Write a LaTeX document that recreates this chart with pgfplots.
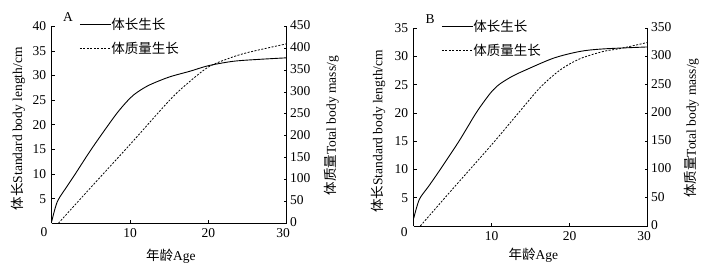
\documentclass[border=0pt]{standalone}
\usepackage{fontspec}
\setmainfont{Liberation Serif}
\newfontfamily\cjk{Noto Sans CJK SC}
\usepackage{pgfplots}
\pgfplotsset{compat=1.18}
\newcommand{\fs}{\fontsize{13.5}{16}\selectfont}

\pgfplotsset{
  twinbase/.style={
    scale only axis,
    xmin=0, xmax=30,
    tick align=inside,
    major tick length=3pt,
    axis line style={line width=0.8pt},
    every tick/.style={line width=0.8pt, black},
    tick label style={font=\fs},
    /pgf/number format/assume math mode=true,
  },
  leftax/.style={twinbase, axis y line*=left, axis x line*=bottom,
    xtick={10,20,30}, xticklabels={10,20,{\hspace{-7pt}30}},
    xticklabel style={yshift=-2pt}, yticklabel style={xshift=-2pt},
    legend style={draw=none, fill=none, at={(rel axis cs:0,1)}, anchor=north west,
      xshift=27.6pt, yshift=8pt, font=\fs\cjk, inner sep=0pt, row sep=10.5pt,
      nodes={inner sep=0pt}, /tikz/every even column/.append style={column sep=7pt}},
    legend cell align=left,
    legend image code/.code={\draw[##1] (0pt,0pt) -- (31pt,0pt);},
  },
  rightax/.style={twinbase, axis y line*=right, axis x line=none, yticklabel style={yshift=1pt}},
  solidcurve/.style={black, line width=0.9pt, smooth},
  dashedcurve/.style={black, line width=0.8pt, dash pattern=on 2pt off 1.5pt, smooth},
}

\begin{document}
\begin{tikzpicture}
\path[use as bounding box] (0,0) rectangle (712pt,273pt);
% ---------------- Panel A ----------------
\begin{axis}[leftax, name=A1, at={(51.7pt,49.7pt)}, anchor=south west,
  width=235pt, height=197pt, ymin=0, ymax=40, ytick={0,5,...,40},
  yticklabels={,5,10,15,20,25,30,35,40}]
\addplot[solidcurve] coordinates {(0,0.34) (0.72,4.4) (2,7.6) (3,10) (5,14.9) (7.2,19.9) (8.6,22.9) (10,25.4) (11,26.7) (12.5,28.1) (15,29.7) (17.7,30.9) (20,32) (23.2,32.9) (26.6,33.3) (30,33.6)};
\addlegendentry{体长生长}
\addlegendimage{dashedcurve}
\addlegendentry{体质量生长}
\end{axis}
\begin{axis}[rightax, at={(51.7pt,49.7pt)}, anchor=south west,
  width=235pt, height=197pt, ymin=0, ymax=450, ytick={0,50,...,450}]
\addplot[dashedcurve] coordinates {(0.85,0) (5,82) (10,180) (15.1,282) (17.5,322) (20,357) (22.5,376) (25,390) (30,410)};
\end{axis}
\node[rotate=90, font=\fs] at ([xshift=-33.7pt, yshift=-4pt]A1.west) {{\cjk 体长}Standard body length/cm};
\node[rotate=90, font=\fs] at ([xshift=45pt, yshift=-1pt]A1.east) {{\cjk 体质量}Total body mass/g};
\node[font=\fs] at ([xshift=1.6pt, yshift=-33.4pt]A1.south) {{\cjk 年龄}Age};
\node[font=\fs] at ([xshift=-7.7pt, yshift=-8.4pt]A1.south west) {0};
\node[font=\fs] at ([xshift=16.3pt, yshift=9.3pt]A1.north west) {A};
% ---------------- Panel B ----------------
\begin{axis}[leftax, name=B1, at={(413.7pt,47pt)}, anchor=south west,
  width=234pt, height=197.7pt, ymin=0, ymax=35, ytick={0,5,...,35},
  yticklabels={,5,10,15,20,25,30,35}]
\addplot[solidcurve] coordinates {(0,1.35) (0.72,4.7) (1.9,7) (3.4,10) (5.8,15) (7.9,19.8) (9,22) (10,23.8) (11,25.1) (12.5,26.4) (14,27.4) (17.9,29.7) (21.3,30.9) (24.3,31.35) (30,31.7)};
\addlegendentry{体长生长}
\addlegendimage{dashedcurve}
\addlegendentry{体质量生长}
\end{axis}
\begin{axis}[rightax, at={(413.7pt,47pt)}, anchor=south west,
  width=234pt, height=197.7pt, ymin=0, ymax=350, ytick={0,50,...,350}]
\addplot[dashedcurve] coordinates {(0.85,0) (4.7,61) (10,144) (13.6,203) (16.2,245) (18.75,276) (21.3,296) (24.3,309) (26.4,314) (30,325)};
\end{axis}
\node[rotate=90, font=\fs] at ([xshift=-35.4pt, yshift=-4pt]B1.west) {{\cjk 体长}Standard body length/cm};
\node[rotate=90, font=\fs] at ([xshift=44pt, yshift=-1pt]B1.east) {{\cjk 体质量}Total body mass/g};
\node[font=\fs] at ([xshift=2.6pt, yshift=-29pt]B1.south) {{\cjk 年龄}Age};
\node[font=\fs] at ([xshift=-9.4pt, yshift=-6.3pt]B1.south west) {0};
\node[font=\fs] at ([xshift=16.3pt, yshift=9.3pt]B1.north west) {B};
\end{tikzpicture}
\end{document}
